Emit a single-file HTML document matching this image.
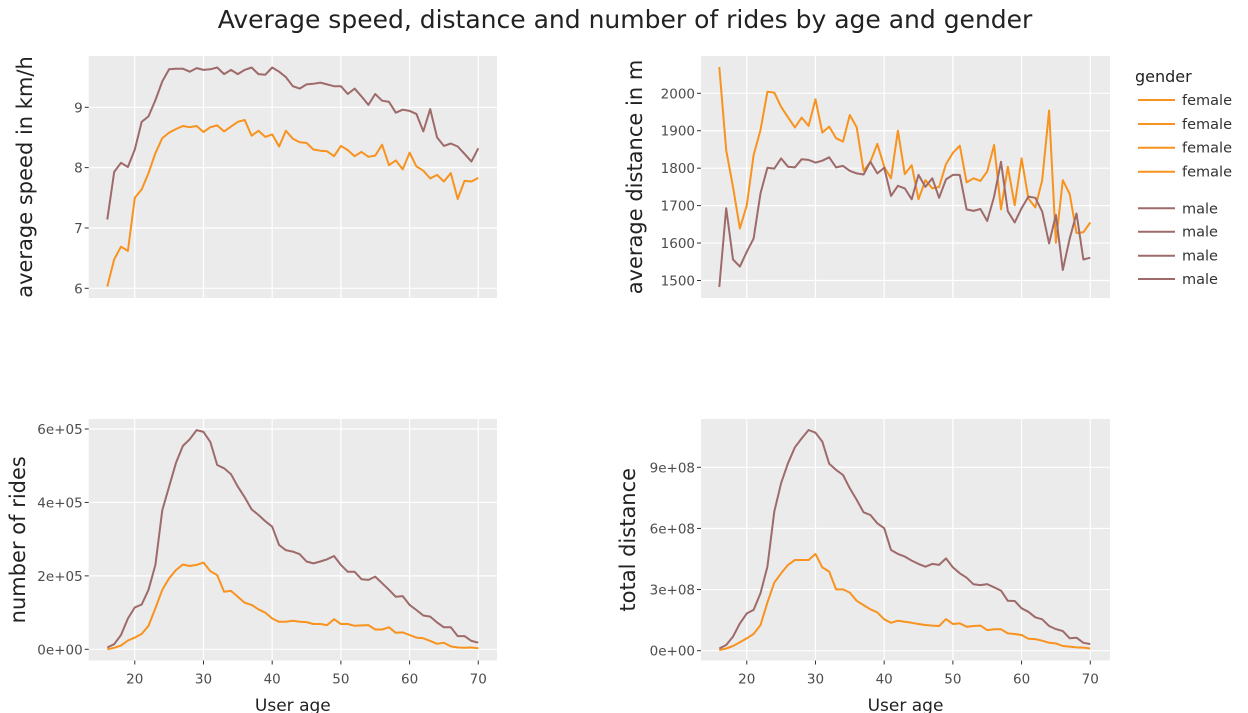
<!DOCTYPE html>
<html><head><meta charset="utf-8"><style>
body{margin:0;background:#fff;}
svg{display:block;font-family:"DejaVu Sans","Liberation Sans",sans-serif;}
</style></head><body>
<svg id="chart" width="1248" height="713" viewBox="0 0 1248 713">
<text x="625" y="28" text-anchor="middle" font-size="25" fill="#222">Average speed, distance and number of rides by age and gender</text>
<g id="legend">
<text x="1135" y="82" font-size="16" fill="#222">gender</text>
</g>
</svg>
<script>
const ages=[];for(let a=16;a<=70;a++)ages.push(a);
const speedFemale=[6.03,6.48,6.69,6.62,7.50,7.64,7.91,8.24,8.49,8.58,8.64,8.69,8.67,8.69,8.59,8.67,8.70,8.60,8.68,8.76,8.79,8.53,8.61,8.51,8.55,8.35,8.61,8.48,8.42,8.41,8.30,8.28,8.27,8.19,8.36,8.29,8.19,8.26,8.18,8.20,8.38,8.04,8.12,7.97,8.25,8.02,7.95,7.82,7.88,7.77,7.91,7.48,7.78,7.77,7.83];
const speedMale=[7.14,7.93,8.08,8.01,8.30,8.76,8.85,9.12,9.43,9.63,9.64,9.64,9.59,9.65,9.62,9.63,9.66,9.55,9.62,9.55,9.62,9.66,9.55,9.54,9.66,9.59,9.50,9.35,9.31,9.38,9.39,9.41,9.38,9.35,9.35,9.22,9.31,9.18,9.04,9.22,9.11,9.09,8.91,8.96,8.94,8.89,8.60,8.97,8.50,8.36,8.40,8.35,8.23,8.10,8.32];
const distFemale=[2070,1848,1750,1639,1701,1835,1902,2004,2002,1964,1936,1909,1935,1913,1984,1895,1911,1880,1871,1942,1909,1793,1817,1865,1804,1773,1900,1784,1808,1717,1768,1746,1750,1811,1841,1860,1762,1773,1766,1791,1862,1690,1804,1701,1826,1719,1695,1768,1954,1601,1768,1731,1627,1629,1655];
const distMale=[1483,1693,1556,1537,1577,1612,1733,1801,1799,1826,1804,1802,1824,1822,1815,1820,1829,1802,1806,1793,1786,1783,1817,1786,1801,1726,1753,1746,1717,1782,1750,1773,1721,1770,1782,1782,1690,1686,1691,1659,1724,1817,1685,1655,1693,1724,1721,1684,1599,1675,1528,1612,1679,1556,1561];
const ridesFemale=[0,0.04,0.10,0.24,0.32,0.42,0.64,1.12,1.62,1.93,2.16,2.31,2.27,2.30,2.36,2.13,2.02,1.57,1.59,1.43,1.27,1.21,1.09,1.00,0.84,0.75,0.75,0.78,0.75,0.74,0.69,0.69,0.66,0.82,0.69,0.69,0.64,0.65,0.66,0.54,0.54,0.60,0.45,0.46,0.39,0.32,0.30,0.23,0.15,0.18,0.08,0.05,0.04,0.05,0.03];
const ridesMale=[0.05,0.14,0.39,0.84,1.14,1.22,1.62,2.30,3.79,4.43,5.08,5.54,5.72,5.97,5.92,5.65,5.02,4.93,4.77,4.43,4.14,3.81,3.66,3.49,3.34,2.84,2.70,2.66,2.59,2.39,2.34,2.39,2.45,2.54,2.30,2.11,2.11,1.91,1.89,1.98,1.80,1.62,1.43,1.45,1.21,1.07,0.92,0.89,0.73,0.60,0.60,0.36,0.36,0.23,0.18];
const totalFemale=[0.03,0.11,0.23,0.41,0.61,0.82,1.26,2.36,3.34,3.80,4.21,4.45,4.45,4.45,4.75,4.09,3.88,3.01,3.01,2.85,2.45,2.24,2.03,1.88,1.54,1.37,1.47,1.42,1.37,1.31,1.26,1.23,1.21,1.55,1.31,1.34,1.18,1.21,1.23,1.01,1.05,1.05,0.85,0.82,0.77,0.59,0.57,0.49,0.39,0.36,0.23,0.20,0.16,0.15,0.11];
const totalMale=[0.11,0.28,0.69,1.34,1.83,2.00,2.82,4.12,6.83,8.22,9.20,9.98,10.42,10.83,10.70,10.26,9.17,8.87,8.62,7.97,7.40,6.79,6.66,6.25,6.01,4.94,4.75,4.62,4.42,4.26,4.12,4.26,4.21,4.53,4.09,3.80,3.58,3.26,3.22,3.27,3.11,2.95,2.45,2.44,2.08,1.91,1.64,1.54,1.21,1.06,0.96,0.61,0.64,0.39,0.33];
const xTicks=[20,30,40,50,60,70];
const speedTicks=[6,7,8,9];
const distTicks=[1500,1600,1700,1800,1900,2000];
const distTickLabels=["1500","1600","1700","1800","1900","2000"];
const ridesTicks=[0,2,4,6];
const ridesTickLabels=["0e+00","2e+05","4e+05","6e+05"];
const totalTicks=[0,3,6,9];
const totalTickLabels=["0e+00","3e+08","6e+08","9e+08"];
const legendLabels=["female","female","female","female","male","male","male","male"];

const NS="http://www.w3.org/2000/svg";
const svg=document.getElementById('chart');
const FEM="#f7931e",MAL="#9e6a6a";
function mk(tag,attrs,parent){const e=document.createElementNS(NS,tag);for(const k in attrs)e.setAttribute(k,attrs[k]);(parent||svg).appendChild(e);return e;}

function panel(name,box,yDom,yT,yTL,fem,mal,yTitle,yTitleX,showX){
  const g=mk('g',{});
  
  
  const bg=mk('rect',{x:box.x0,y:box.y0,width:box.x1-box.x0,height:box.y1-box.y0,fill:'#ebebeb'},g);
  
  
  const xs=a=>box.ax16+(a-16)*box.xs;
  const ys=v=>box.yb+(v-yDom[0])/(yDom[1]-yDom[0])*(box.yt-box.yb);
  xTicks.forEach(t=>{
    const l=mk('line',{x1:xs(t),x2:xs(t),y1:box.y0,y2:box.y1,stroke:'#fff','stroke-width':1.2},g);
    
    
  });
  yT.forEach((t,i)=>{
    const y=ys(t);
    const l=mk('line',{x1:box.x0,x2:box.x1,y1:y,y2:y,stroke:'#fff','stroke-width':1.2},g);
    
    
    mk('line',{x1:box.x0-4,x2:box.x0,y1:y,y2:y,stroke:'#333','stroke-width':1},g);
    const tx=mk('text',{x:box.x0-6,y:y+5,'text-anchor':'end','font-size':13.5,fill:'#4d4d4d'},g);
    tx.textContent=yTL[i];
    
    
  });
  if(showX){xTicks.forEach(t=>{
    mk('line',{x1:xs(t),x2:xs(t),y1:box.y1,y2:box.y1+4,stroke:'#333','stroke-width':1},g);
    const tx=mk('text',{x:xs(t),y:box.y1+23,'text-anchor':'middle','font-size':13.5,fill:'#4d4d4d'},g);
    tx.textContent=String(t);
    
    
  });
  const xt=mk('text',{x:(box.x0+box.x1)/2,y:711,'text-anchor':'middle','font-size':17,fill:'#222'},g);
  xt.textContent='User age';
  
  }
  const cy=(box.y0+box.y1)/2;
  const yt=mk('text',{x:yTitleX,y:cy,'text-anchor':'middle','font-size':21,fill:'#222',transform:`rotate(-90 ${yTitleX} ${cy})`},g);
  yt.textContent=yTitle;
  
  
  [[fem,FEM,'female'],[mal,MAL,'male']].forEach(([arr,c,lab])=>{
    const d=arr.map((v,i)=>(i?'L':'M')+xs(ages[i]).toFixed(1)+' '+ys(v).toFixed(1)).join(' ');
    const p=mk('path',{d:d,fill:'none',stroke:c,'stroke-width':2,'stroke-linejoin':'round'},g);
    
    
  });
}
const L={ax16:107.3,xs:6.87},R={ax16:719.3,xs:6.87};
panel('speed',{x0:88.7,x1:497,y0:56,y1:298,ax16:L.ax16,xs:L.xs,yb:288.3,yt:107.3},[6,9],speedTicks,speedTicks.map(String),speedFemale,speedMale,'average speed in km/h',32,false);
panel('distance',{x0:701,x1:1110,y0:56,y1:298,ax16:R.ax16,xs:R.xs,yb:280.5,yt:93.3},[1500,2000],distTicks,distTickLabels,distFemale,distMale,'average distance in m',642,false);
panel('rides',{x0:88.7,x1:497,y0:419,y1:660.5,ax16:L.ax16,xs:L.xs,yb:649.3,yt:429},[0,6],ridesTicks,ridesTickLabels,ridesFemale,ridesMale,'number of rides',25,true);
panel('total-distance',{x0:701,x1:1110,y0:419,y1:660.5,ax16:R.ax16,xs:R.xs,yb:650.7,yt:467.3},[0,9],totalTicks,totalTickLabels,totalFemale,totalMale,'total distance',635,true);

const lg=document.getElementById('legend');
const legendY=[100,124,147.7,171.7,208.3,231.7,255.7,279];
legendLabels.forEach((lab,i)=>{
  const c=lab==='female'?FEM:MAL;
  const ln=mk('line',{x1:1138,x2:1175,y1:legendY[i],y2:legendY[i],stroke:c,'stroke-width':2},lg);
  
  
  const t=mk('text',{x:1182,y:legendY[i]+5,'font-size':14.5,fill:'#333'},lg);
  t.textContent=lab;
  
  
});
</script>
</body></html>
